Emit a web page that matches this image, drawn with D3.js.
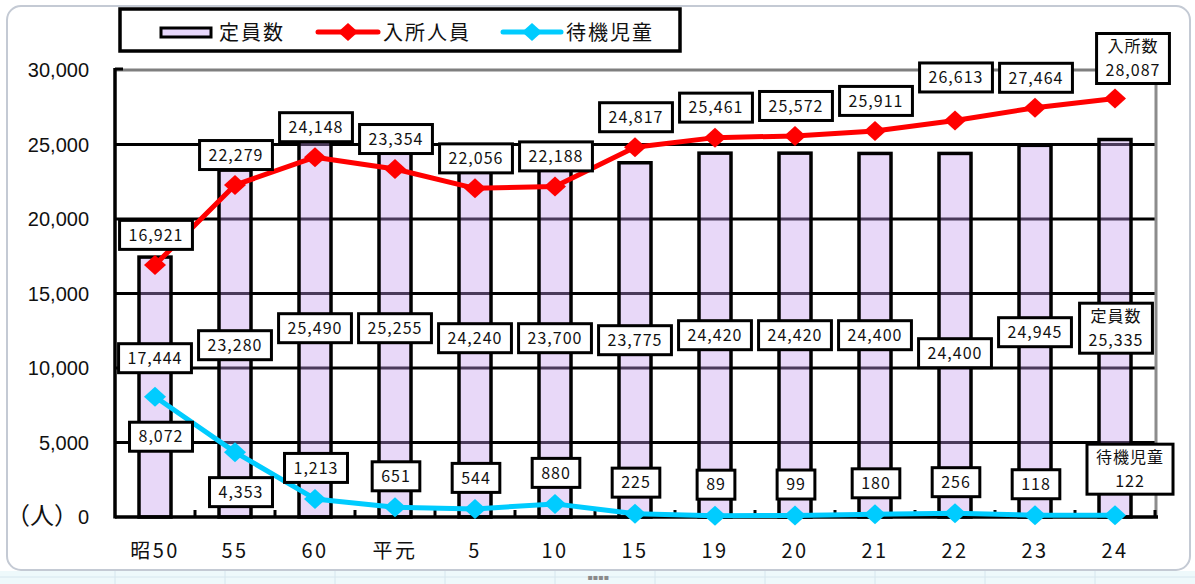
<!DOCTYPE html>
<html>
<head>
<meta charset="utf-8">
<script src="https://cdn.jsdelivr.net/npm/d3@7"></script>
<style>
  body { margin: 0; background: #fff; }
  svg { display: block; }
  .tickText { font-family: "Liberation Sans", Arial, sans-serif; font-size: 20px; fill: #111; }
  .catText { font-family: "Noto Sans CJK JP", sans-serif; font-size: 20px; fill: #111; letter-spacing: 2.5px; }
  .boxText { font-family: "Noto Sans CJK JP", sans-serif; font-size: 16px; fill: #111; letter-spacing: 1px; }
  .legText { font-family: "Noto Sans CJK JP", sans-serif; font-size: 20px; fill: #111; letter-spacing: 2px; }
</style>
</head>
<body>
<div id="chart"></div>
<script>
// data
var categories = ["昭50", "55", "60", "平元", "5", "10", "15", "19", "20", "21", "22", "23", "24"];
var capacity = [17444, 23280, 25490, 25255, 24240, 23700, 23775, 24420, 24420, 24400, 24400, 24945, 25335];
var enrolled = [16921, 22279, 24148, 23354, 22056, 22188, 24817, 25461, 25572, 25911, 26613, 27464, 28087];
var waiting = [8072, 4353, 1213, 651, 544, 880, 225, 89, 99, 180, 256, 118, 122];
var yTicks = [0, 5000, 10000, 15000, 20000, 25000, 30000];
var seriesNames = ["定員数", "入所人員", "待機児童"];

var svgWidth = 1195;
var svgHeight = 584;

var margin = {
  top: 70,
  right: 40,
  bottom: 67,
  left: 115
};

var width = svgWidth - margin.left - margin.right;
var height = svgHeight - margin.top - margin.bottom;

// hand-placed label nudges (pixels), as in the original sheet
var capLabelNudge = [20, 7, -10, -10, 0, 0, 2, -3, -3, -3, 15, -6, -10];

var fmt = d3.format(",");
var barFill = "rgba(195,153,237,0.38)";
var red = "#ff0000";
var cyan = "#00ccff";

var svg = d3.select("#chart")
  .append("svg")
  .attr("width", svgWidth)
  .attr("height", svgHeight);

// outer frame + spreadsheet strip below
svg.append("rect")
  .attr("x", 0).attr("y", 571).attr("width", svgWidth).attr("height", 13)
  .attr("fill", "#eef9fb");
svg.append("line")
  .attr("x1", 0).attr("x2", svgWidth).attr("y1", 577).attr("y2", 577)
  .attr("stroke", "#d6e6ee");
[115, 225, 335, 445, 555, 655, 765, 875, 985, 1095].forEach(function(px) {
  svg.append("line")
    .attr("x1", px).attr("x2", px).attr("y1", 571).attr("y2", 584)
    .attr("stroke", "#d6e6ee");
});
svg.append("text")
  .attr("x", 598).attr("y", 580)
  .attr("text-anchor", "middle")
  .style("font-family", "DejaVu Sans").style("font-size", "8px")
  .attr("fill", "#8a8a8a")
  .text("▪▪▪▪");

svg.append("rect")
  .attr("x", 7).attr("y", 6)
  .attr("width", 1183).attr("height", 564)
  .attr("rx", 14)
  .attr("fill", "#fff")
  .attr("stroke", "#c4cad4")
  .attr("stroke-width", 2);

var chartGroup = svg.append("g")
  .attr("transform", `translate(${margin.left}, ${margin.top})`);

// scales
var xScale = d3.scaleBand()
  .domain(categories)
  .range([0, width])
  .paddingInner(0.6)
  .paddingOuter(0.3);

var yScale = d3.scaleLinear()
  .domain([0, 30000])
  .range([height, 0]);

var cx = function(i) { return xScale(categories[i]) + xScale.bandwidth() / 2; };

// gridlines
chartGroup.append("g").selectAll("line")
  .data(yTicks.filter(function(t) { return t > 0; }))
  .enter()
  .append("line")
  .attr("x1", 0).attr("x2", width)
  .attr("y1", function(d) { return yScale(d); })
  .attr("y2", function(d) { return yScale(d); })
  .attr("stroke", function(d) { return d === 30000 ? "#7f7f7f" : "#000"; })
  .attr("stroke-width", 3);

// right border
chartGroup.append("line")
  .attr("x1", width + 1).attr("x2", width + 1)
  .attr("y1", 0).attr("y2", height)
  .attr("stroke", "#8c8c8c").attr("stroke-width", 3);

// bars
chartGroup.append("g").selectAll("rect")
  .data(capacity)
  .enter()
  .append("rect")
  .attr("x", function(d, i) { return xScale(categories[i]); })
  .attr("y", function(d) { return yScale(d); })
  .attr("width", xScale.bandwidth())
  .attr("height", function(d) { return height - yScale(d); })
  .attr("fill", barFill)
  .attr("stroke", "#000")
  .attr("stroke-width", 3.5);

// axes
chartGroup.append("line")
  .attr("x1", 0).attr("x2", 0)
  .attr("y1", -2).attr("y2", height + 1.5)
  .attr("stroke", "#000").attr("stroke-width", 3.5);
chartGroup.append("line")
  .attr("x1", 0).attr("x2", 8)
  .attr("y1", -1).attr("y2", -1)
  .attr("stroke", "#000").attr("stroke-width", 3);
chartGroup.append("line")
  .attr("x1", 0).attr("x2", width + 3)
  .attr("y1", height).attr("y2", height)
  .attr("stroke", "#000").attr("stroke-width", 3.5);

// small ticks at category boundaries
var step = xScale.step();
chartGroup.append("g").selectAll("line")
  .data(categories.slice(1).concat(["end"]))
  .enter()
  .append("line")
  .attr("x1", function(d, i) { return (i + 1) * step; })
  .attr("x2", function(d, i) { return (i + 1) * step; })
  .attr("y1", height)
  .attr("y2", height - 7)
  .attr("stroke", "#000")
  .attr("stroke-width", 3);

// y labels
chartGroup.append("g").selectAll("text")
  .data(yTicks)
  .enter()
  .append("text")
  .attr("class", "tickText")
  .attr("x", -26)
  .attr("y", function(d) { return yScale(d); })
  .attr("dy", "0.36em")
  .attr("text-anchor", "end")
  .text(function(d) { return fmt(d); });

chartGroup.append("text")
  .attr("class", "legText")
  .attr("x", -37)
  .attr("y", height)
  .attr("dy", "0.3em")
  .attr("text-anchor", "end")
  .style("letter-spacing", "0px")
  .style("font-size", "24px")
  .text("（人）");

// x labels
chartGroup.append("g").selectAll("text")
  .data(categories)
  .enter()
  .append("text")
  .attr("class", "catText")
  .attr("x", function(d, i) { return cx(i); })
  .attr("y", height + 34)
  .attr("dy", "0.36em")
  .attr("text-anchor", "middle")
  .text(function(d) { return d; });

// lines and markers
function diamond(w, h) {
  return `M0,${-h}L${w},0L0,${h}L${-w},0Z`;
}

function drawSeries(values, color) {
  var line = d3.line()
    .x(function(d, i) { return cx(i); })
    .y(function(d) { return yScale(d); });

  chartGroup.append("path")
    .datum(values)
    .attr("d", line)
    .attr("fill", "none")
    .attr("stroke", color)
    .attr("stroke-width", 5)
    .attr("stroke-linejoin", "round");

  chartGroup.append("g").selectAll("path")
    .data(values)
    .enter()
    .append("path")
    .attr("transform", function(d, i) { return `translate(${cx(i)}, ${yScale(d)})`; })
    .attr("d", diamond(11, 10))
    .attr("fill", color);
}

drawSeries(enrolled, red);
drawSeries(waiting, cyan);

// label boxes
var labelGroup = chartGroup.append("g");

function addLabel(lines, x, y) {
  var g = labelGroup.append("g").attr("transform", `translate(${x}, ${y})`);
  var rect = g.append("rect");
  var lineH = 24;
  var maxW = 0;
  lines.forEach(function(t, k) {
    var txt = g.append("text")
      .attr("class", "boxText")
      .attr("x", 0)
      .attr("y", (k - (lines.length - 1) / 2) * lineH)
      .attr("dy", "0.36em")
      .attr("text-anchor", "middle")
      .text(t);
    maxW = Math.max(maxW, txt.node().getComputedTextLength());
  });
  var w = maxW + 18;
  var h = lines.length === 1 ? 29 : 50;
  rect.attr("x", -w / 2).attr("y", -h / 2)
    .attr("width", w).attr("height", h)
    .attr("fill", "#fff")
    .attr("stroke", "#000")
    .attr("stroke-width", 3);
}

var last = categories.length - 1;

enrolled.forEach(function(v, i) {
  if (i === last) {
    addLabel(["入所数", fmt(v)], cx(i) + 18, yScale(v) - 40);
  } else {
    var dy = i === 10 ? -43 : -30;
    addLabel([fmt(v)], cx(i) + 1, yScale(v) + dy);
  }
});

capacity.forEach(function(v, i) {
  if (i === last) {
    addLabel([seriesNames[0], fmt(v)], cx(i) + 1, yScale(12000) + capLabelNudge[i]);
  } else {
    addLabel([fmt(v)], cx(i), yScale(12000) + capLabelNudge[i]);
  }
});

waiting.forEach(function(v, i) {
  if (i === last) {
    addLabel([seriesNames[2], fmt(v)], cx(i) + 15, yScale(v) - 46);
  } else if (v > 4000) {
    addLabel([fmt(v)], cx(i) + 6, yScale(v) + 40);
  } else {
    addLabel([fmt(v)], cx(i) + 1, yScale(v) - 31);
  }
});

// legend
var legend = svg.append("g");
legend.append("rect")
  .attr("x", 120).attr("y", 9)
  .attr("width", 560).attr("height", 42)
  .attr("fill", "#fff")
  .attr("stroke", "#000")
  .attr("stroke-width", 3.5);

legend.append("rect")
  .attr("x", 161).attr("y", 28)
  .attr("width", 50).attr("height", 9)
  .attr("fill", "#e8d8fc")
  .attr("stroke", "#000")
  .attr("stroke-width", 3);
legend.append("text").attr("class", "legText")
  .attr("x", 219).attr("y", 33).attr("dy", "0.36em")
  .text(seriesNames[0]);

[[318, 378, red, 383, seriesNames[1]], [503, 561, cyan, 566, seriesNames[2]]].forEach(function(it) {
  legend.append("line")
    .attr("x1", it[0]).attr("x2", it[1])
    .attr("y1", 32).attr("y2", 32)
    .attr("stroke", it[2]).attr("stroke-width", 5)
    .attr("stroke-linecap", "round");
  legend.append("path")
    .attr("transform", `translate(${(it[0] + it[1]) / 2}, 32)`)
    .attr("d", diamond(10, 9))
    .attr("fill", it[2]);
  legend.append("text").attr("class", "legText")
    .attr("x", it[3]).attr("y", 33).attr("dy", "0.36em")
    .text(it[4]);
});
</script>
</body>
</html>
